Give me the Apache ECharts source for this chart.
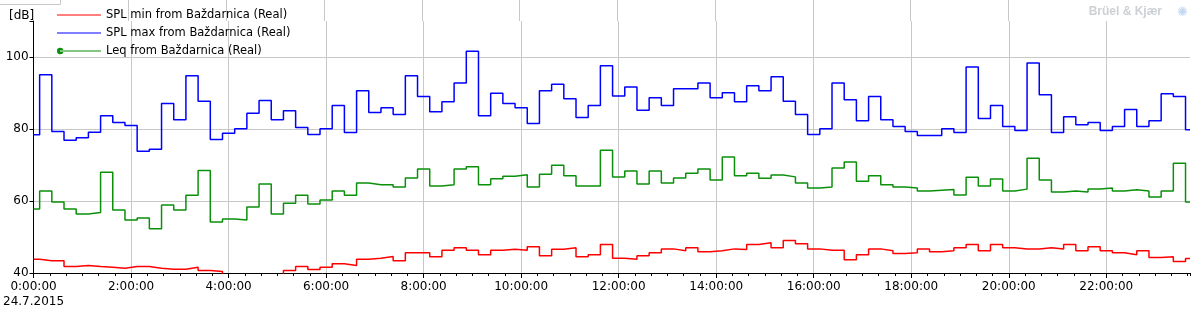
<!DOCTYPE html>
<html>
<head>
<meta charset="utf-8">
<script src="https://cdn.jsdelivr.net/npm/echarts@6/dist/echarts.min.js"></script>
<style>
html,body{margin:0;padding:0;background:#fff;}
#chart{width:1198px;height:309px;}
</style>
</head>
<body>
<div id="chart"></div>
<script>
// Step changes every 15 minutes, first change at 0:07:30 (minutes since midnight)
const FIRST_STEP_MIN = 7.5;
const STEP_MIN = 15;
const AXIS_END_MIN = 1423;
const DATE_LABEL = '24.7.2015';

const seriesNames = [
  'SPL min from Baždarnica (Real)',
  'SPL max from Baždarnica (Real)',
  'Leq from Baždarnica (Real)'
];

// index 0 = value from 0:00:00, index i = value from step i-1
const splMin = [43.8,43.4,43.4,41.8,42.1,41.8,41.6,41.3,41.8,41.8,41.3,41.05,41.05,41.6,40.7,40.4,
  39,39,39,39,39,40.7,41.8,41.0,41.6,42.6,42.1,43.8,44.1,44.6,43.4,
  45.6,45.6,44.5,46.3,47.0,46.3,45.1,46.3,46.6,46.3,47.3,44.8,46.6,47.0,44.5,45.1,47.9,
  44.1,43.8,44.8,45.6,46.7,46.2,47.0,45.9,46.2,46.7,46.5,47.9,48.4,47.0,49.0,48.1,
  46.7,46.3,46.3,43.7,45.1,46.7,46.2,45.4,45.6,46.7,45.9,46.2,47.0,47.9,46.2,47.9,
  47.0,46.7,46.7,47.0,46.7,47.9,46.2,47.3,46.2,45.6,45.1,46.2,44.3,44.5,43.2,44.0];

const splMax = [78.4,95.1,79.3,76.9,77.6,79.1,83.7,81.8,81.0,73.8,74.4,87.1,82.6,94.8,87.7,77.1,
  78.8,80.1,84.4,87.9,82.6,85.1,80.4,78.5,80.1,86.5,79.0,90.6,84.6,85.9,84.0,
  94.8,89.0,84.8,87.6,92.8,101.6,83.7,89.9,87.1,85.9,81.5,90.6,92.4,88.4,83.2,86.5,97.6,
  89.2,91.7,85.2,88.7,86.5,91.2,91.2,92.8,88.7,90.1,87.6,92.0,90.6,94.5,87.7,84.0,
  78.5,80.1,92.8,88.1,82.3,89.0,82.6,80.7,79.3,78.2,78.2,80.1,79.0,97.2,82.9,86.5,
  80.7,79.6,98.3,89.5,79.0,83.4,81.2,81.8,79.6,80.7,85.4,80.7,82.3,89.8,89.0,79.8];

const leq = [57.8,62.8,59.7,57.8,56.4,56.8,68.0,57.5,54.7,55.3,52.3,58.9,57.5,61.6,68.5,54.2,
  55.0,54.7,58.3,64.7,56.4,59.4,61.6,59.2,60.3,62.8,61.6,65.0,64.5,64.5,63.9,
  66.4,68.9,64.2,64.5,68.9,69.5,64.5,66.2,66.9,67.3,63.9,67.4,69.9,67.0,64.2,64.2,74.1,
  66.7,68.3,64.7,68.3,65.0,66.4,67.7,68.9,65.8,72.2,67.0,67.7,66.3,67.2,66.7,65.0,
  63.6,63.9,69.2,70.8,65.5,67.0,64.5,63.9,63.6,62.8,63.0,63.2,61.7,66.6,64.2,66.1,
  62.8,63.3,71.9,65.8,62.5,62.8,62.5,63.3,63.6,62.8,63.1,62.8,61.1,62.8,70.5,59.7];

const yTicks = {min: 40, max: 110, interval: 20};
const colors = ['#ff0000', '#0000ff', '#0a900a'];

function stepTimes(n) {
  const t = [0];
  for (let i = 1; i < n; i++) t.push(FIRST_STEP_MIN + STEP_MIN * (i - 1));
  return t;
}
function toPairs(vals) {
  const t = stepTimes(vals.length);
  const d = vals.map((v, i) => [t[i], v]);
  d.push([AXIS_END_MIN, vals[vals.length - 1]]);
  return d;
}

const font = 'DejaVu Sans';
const gridColor = '#c8c8c8';
const lineIcon = 'path://M0,0 L0.01,0 L0.01,0.01 Z M44,8 L43.99,8 L43.99,7.99 Z M0,3.5 L44,3.5 L44,4.5 L0,4.5 Z';
const dotIcon = 'path://M0,0 L0.01,0 L0.01,0.01 Z M44,8 L43.99,8 L43.99,7.99 Z M3,3.4 L44,3.4 L44,4.6 L3,4.6 Z M0,4 A3.2,3.2 0 1,0 6.4,4 A3.2,3.2 0 1,0 0,4 Z';

const chart = echarts.init(document.getElementById('chart'), null, {renderer: 'canvas'});
chart.setOption({
  animation: false,
  backgroundColor: '#ffffff',
  textStyle: {fontFamily: font},
  title: {
    text: '[dB]', left: 4, top: 5,
    textStyle: {fontSize: 12, fontWeight: 'normal', color: '#000', fontFamily: font}
  },
  graphic: [{
    type: 'polyline', z: 5, silent: true,
    shape: {points: [[0, 4.5], [60.5, 4.5], [60.5, 0]]},
    style: {stroke: gridColor, lineWidth: 1, fill: null}
  }, {
    type: 'rect', right: 0, top: 0, z: 50,
    shape: {width: 125, height: 21}, style: {fill: '#ffffff'}
  }, {
    type: 'text', right: 36, top: 6, z: 51,
    style: {text: 'Brüel & Kjær', fill: '#cdd0d4', font: 'bold 12px "Liberation Sans"'}
  }, {
    type: 'text', right: 10, top: 6, z: 51,
    style: {text: '✺', fill: '#c5d8f0', font: '13px "DejaVu Sans"'}
  }],
  legend: {
    orient: 'vertical', left: 57, top: 6, padding: 0,
    itemWidth: 44, itemHeight: 8, itemGap: 0,
    selectedMode: false, z: 10,
    textStyle: {fontSize: 11.5, color: '#000', fontFamily: font, lineHeight: 18, height: 18},
    data: [
      {name: seriesNames[0], icon: lineIcon, itemStyle: {color: colors[0]}},
      {name: seriesNames[1], icon: lineIcon, itemStyle: {color: colors[1]}},
      {name: seriesNames[2], icon: dotIcon, itemStyle: {color: colors[2]}}
    ]
  },
  grid: [
    {left: 31, right: 8, top: 21, bottom: 34},
    {left: 31, right: 8, top: 0, height: 21}
  ],
  xAxis: [{
    type: 'value', min: 0, max: AXIS_END_MIN, interval: 120, gridIndex: 0,
    axisLine: {lineStyle: {color: '#000', width: 1}},
    axisTick: {length: 5, lineStyle: {color: '#000'}},
    splitLine: {show: true, showMinLine: false, showMaxLine: false, lineStyle: {color: gridColor, width: 1}},
    axisLabel: {
      color: '#000', fontSize: 12, fontFamily: font, margin: 6, lineHeight: 15,
      showMaxLabel: false,
      formatter: function (v) {
        if (v % 120 !== 0) return '';
        const s = (v / 60) + ':00:00';
        return v === 0 ? s + '\n' + DATE_LABEL : s;
      }
    }
  }, {
    type: 'value', min: 0, max: AXIS_END_MIN, interval: 20, position: 'bottom', gridIndex: 0,
    axisLine: {show: false},
    axisTick: {length: 3, lineStyle: {color: '#000'}},
    splitLine: {show: false},
    axisLabel: {show: false}
  }, {
    type: 'value', min: 0, max: AXIS_END_MIN, interval: 120, gridIndex: 1,
    axisLine: {show: false}, axisTick: {show: false}, axisLabel: {show: false},
    splitLine: {show: true, showMinLine: false, showMaxLine: false, lineStyle: {color: gridColor, width: 1}}
  }],
  yAxis: [{
    type: 'value', min: yTicks.min, max: yTicks.max, interval: yTicks.interval, gridIndex: 0,
    axisLine: {show: true, lineStyle: {color: '#000', width: 1}},
    axisTick: {show: true, length: 4, lineStyle: {color: '#000'}},
    splitLine: {show: true, showMinLine: false, showMaxLine: false, lineStyle: {color: gridColor, width: 1}},
    axisLabel: {
      color: '#000', fontSize: 12, fontFamily: font, margin: 5,
      formatter: function (v) { return v % 20 === 0 ? String(v) : ''; }
    }
  }, {
    type: 'value', gridIndex: 1, show: false, min: 0, max: 1
  }],
  series: [
    {name: seriesNames[0], type: 'line', step: 'end', data: toPairs(splMin), showSymbol: false,
      lineStyle: {color: colors[0], width: 1.5}, itemStyle: {color: colors[0]}, clip: true},
    {name: seriesNames[1], type: 'line', step: 'end', data: toPairs(splMax), showSymbol: false,
      lineStyle: {color: colors[1], width: 1.5}, itemStyle: {color: colors[1]}, clip: true},
    {name: seriesNames[2], type: 'line', step: 'end', data: toPairs(leq), showSymbol: false,
      lineStyle: {color: colors[2], width: 1.5}, itemStyle: {color: colors[2]}, clip: true}
  ]
});
</script>
</body>
</html>
